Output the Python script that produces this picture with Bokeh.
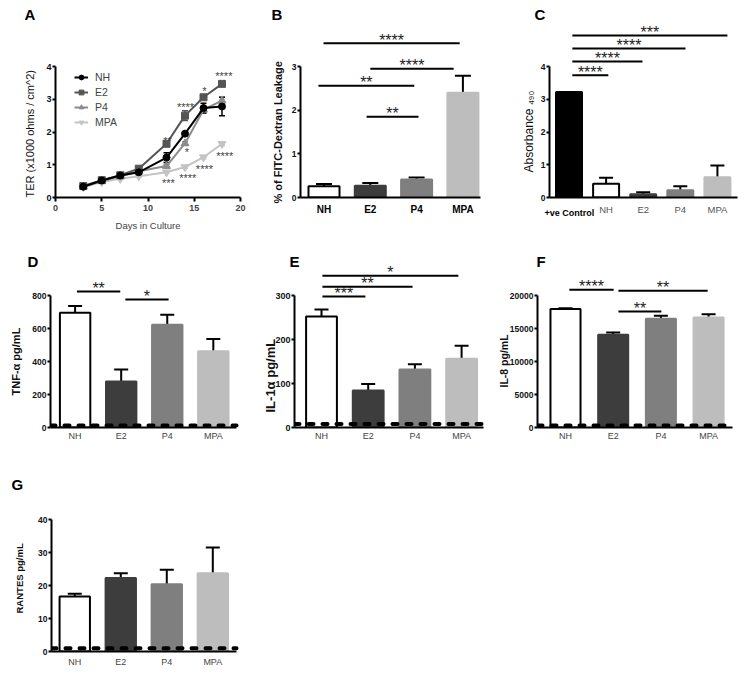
from bokeh.plotting import figure
from bokeh.models import (Range1d, FixedTicker, Whisker, TeeHead, ColumnDataSource,
                          Legend, LegendItem, Title)
from bokeh.layouts import column, row
from bokeh.embed import file_html
from bokeh.resources import INLINE
from bokeh.core.properties import value

FONT = "Liberation Sans"

# ---------------- data ----------------
# Panel A: TER over days in culture
days = [3, 5, 7, 9, 12, 14, 16, 18]
ter_nh = [0.33, 0.52, 0.67, 0.77, 1.22, 1.95, 2.73, 2.78]
ter_nh_err = [0.03, 0.03, 0.04, 0.05, 0.15, 0.05, 0.15, 0.28]
ter_e2 = [0.35, 0.53, 0.68, 0.88, 1.64, 2.50, 3.06, 3.47]
ter_e2_err = [0.02, 0.03, 0.03, 0.04, 0.05, 0.15, 0.06, 0.07]
ter_p4 = [0.33, 0.50, 0.65, 0.80, 0.96, 1.65, 2.68, 2.96]
ter_p4_err = [0.02, 0.02, 0.03, 0.03, 0.05, 0.05, 0.10, 0.10]
ter_mpa = [0.32, 0.47, 0.57, 0.65, 0.77, 0.93, 1.23, 1.64]
ter_mpa_err = [0.02, 0.02, 0.02, 0.03, 0.03, 0.04, 0.05, 0.05]
a_star_x = [12.1, 14.05, 16.1, 18.2, 14.2, 12.2, 14.3, 16.1, 18.3]
a_star_y = [1.83, 2.84, 3.33, 3.79, 1.47, 0.52, 0.70, 0.95, 1.37]
a_star_lab = ["**", "****", "*", "****", "*", "***", "****", "****", "****"]

groups = ["NH", "E2", "P4", "MPA"]

# Panel B: FITC-dextran leakage
b_vals = [0.26, 0.27, 0.41, 2.40]
b_errs = [0.05, 0.06, 0.05, 0.39]
b_sig_x0 = [0.99, 2.00, 0.88, 1.92]
b_sig_x1 = [3.93, 3.80, 2.95, 3.04]
b_sig_y = [3.53, 2.95, 2.56, 1.85]
b_sig_lab = ["****", "****", "**", "**"]

# Panel C: absorbance
c_cats = ["+ve Control", "NH", "E2", "P4", "MPA"]
c_vals = [3.22, 0.42, 0.10, 0.22, 0.62]
c_errs = [0.0, 0.18, 0.06, 0.12, 0.36]
c_sig_x0 = [1.09, 1.09, 1.09, 1.09]
c_sig_x1 = [5.27, 4.14, 2.98, 2.06]
c_sig_y = [4.95, 4.55, 4.15, 3.73]
c_sig_lab = ["***", "****", "****", "****"]

# Panel D: TNF-alpha
d_vals = [695, 279, 622, 462]
d_errs = [42, 73, 61, 75]
d_lod = 12
d_sig_x0 = [1.04, 2.09]
d_sig_x1 = [1.98, 3.03]
d_sig_y = [824, 776]
d_sig_lab = ["**", "*"]

# Panel E: IL-1alpha
e_vals = [252, 84, 132, 156]
e_errs = [16, 15, 12, 30]
e_lod = 8
e_sig_x0 = [1.02, 1.02, 1.02]
e_sig_x1 = [3.93, 2.95, 1.94]
e_sig_y = [345, 320, 298]
e_sig_lab = ["*", "**", "***"]

# Panel F: IL-8
f_vals = [17950, 14040, 16470, 16670]
f_errs = [120, 350, 450, 500]
f_lod = 300
f_sig_x0 = [1.08, 2.11, 2.11]
f_sig_x1 = [2.01, 3.98, 3.01]
f_sig_y = [20860, 20710, 17576]
f_sig_lab = ["****", "**", "**"]

# Panel G: RANTES
g_vals = [16.7, 22.3, 20.4, 23.7]
g_errs = [0.8, 1.4, 4.4, 7.8]
g_lod = 1.0

bar_fill = ["white", "#3d3d3d", "#7f7f7f", "#bdbdbd"]
bar_line = ["black", "#3d3d3d", "#7f7f7f", "#bdbdbd"]


def base_fig(w, h, xr, yr, borders, ytick_size="8.5px"):
    l, r, t, b = borders
    p = figure(width=w, height=h, x_range=Range1d(*xr), y_range=Range1d(*yr),
               output_backend="svg", toolbar_location=None, title=None,
               min_border_left=l, min_border_right=r, min_border_top=t, min_border_bottom=b)
    p.xgrid.visible = False
    p.ygrid.visible = False
    p.outline_line_color = None
    p.background_fill_color = "white"
    p.border_fill_color = "white"
    for ax in (p.xaxis[0], p.yaxis[0]):
        ax.axis_line_width = 2
        ax.axis_line_color = "black"
        ax.major_tick_line_width = 2
        ax.major_tick_line_color = "black"
        ax.minor_tick_line_color = None
        ax.major_tick_in = 0
        ax.major_label_text_font = FONT
        ax.axis_label_text_font = FONT
        ax.major_label_text_font_size = "9px"
    p.yaxis[0].major_label_text_font_size = ytick_size
    p.yaxis[0].major_tick_out = 3
    p.yaxis[0].major_label_standoff = 1
    p.yaxis[0].major_label_text_font_style = "bold"
    p.yaxis[0].major_label_text_color = "#111"
    return p


def panel_letter(p, letter, offset, standoff):
    p.add_layout(Title(text=letter, align="left", offset=offset, standoff=standoff,
                       vertical_align="bottom", text_font=FONT, text_font_size="15px",
                       text_font_style="bold", text_color="black"), "above")


def y_title(p, label, size, style, offset, standoff):
    p.add_layout(Title(text=label, align="left", offset=offset, standoff=standoff,
                       vertical_align="bottom", text_font=FONT, text_font_size=size,
                       text_font_style=style, text_color="#111"), "left")


def sig_marks(p, x0, x1, y, labs, size="16px"):
    mids = [(a + b) / 2 for a, b in zip(x0, x1)]
    p.segment(x0=x0, x1=x1, y0=y, y1=y, line_width=2, line_color="black")
    p.text(x=mids, y=y, text=labs, text_align="center",
           text_baseline="alphabetic", y_offset=-3, text_font=value(FONT),
           text_font_size=size, text_color="#222")


def bars(p, vals, errs, fills, lines, width, cap):
    xs = list(range(1, len(vals) + 1))
    src = ColumnDataSource(dict(x=xs, top=vals, fill=fills, line=lines))
    p.vbar(x="x", top="top", bottom=0, width=width, fill_color="fill", line_color="line",
           line_width=2, source=src)
    ex = [x for x, e in zip(xs, errs) if e > 0]
    lo = [v for v, e in zip(vals, errs) if e > 0]
    hi = [v + e for v, e in zip(vals, errs) if e > 0]
    wsrc = ColumnDataSource(dict(x=ex, lo=lo, hi=hi))
    p.add_layout(Whisker(source=wsrc, base="x", lower="lo", upper="hi", line_width=2,
                         line_color="black", lower_head=None,
                         upper_head=TeeHead(size=cap, line_width=2, line_color="black")))


def cat_axis(p, cats, xstart, xend_axis, bold=False, color="#444", size="9px", standoff=3):
    ax = p.xaxis[0]
    ax.ticker = FixedTicker(ticks=list(range(1, len(cats) + 1)))
    ax.major_label_overrides = {i + 1: c for i, c in enumerate(cats)}
    ax.major_tick_out = 0
    ax.major_label_standoff = standoff
    ax.bounds = (xstart, xend_axis)
    ax.major_label_text_font_style = "bold" if bold else "normal"
    ax.major_label_text_color = color
    ax.major_label_text_font_size = size


def y_ticks(p, ticks):
    ax = p.yaxis[0]
    ax.ticker = FixedTicker(ticks=ticks)
    ax.bounds = (0, ticks[-1])


def lod_line(p, xstart, xend, lod):
    p.segment(x0=[xstart], x1=[xend], y0=[lod], y1=[lod], line_width=4, line_color="black",
              line_dash="5 9", line_cap="round")


# ---------------- Panel A ----------------
pA = base_fig(248, 250, (0, 20), (0, 5.252), (55, 8, 25, 53), ytick_size="9px")
pA.xaxis[0].ticker = FixedTicker(ticks=[0, 5, 10, 15, 20])
pA.xaxis[0].major_tick_out = 4
pA.xaxis[0].major_label_standoff = 3
pA.xaxis[0].major_label_text_font_style = "bold"
pA.xaxis[0].axis_label = "Days in Culture"
pA.xaxis[0].axis_label_text_font_size = "9.5px"
pA.xaxis[0].axis_label_text_font_style = "normal"
pA.xaxis[0].axis_label_standoff = 6
y_ticks(pA, [0, 1, 2, 3, 4])
y_title(pA, "TER (x1000 ohms / cm^2)", "11px", "normal", 0, 15)

series = [("NH", ter_nh, ter_nh_err, "black", "circle", 7),
          ("E2", ter_e2, ter_e2_err, "#555555", "square", 7),
          ("P4", ter_p4, ter_p4_err, "#8c8c8c", "triangle", 8),
          ("MPA", ter_mpa, ter_mpa_err, "#c4c4c4", "inverted_triangle", 8)]
items = []
for name, ys, es, col, mk, sz in reversed(series):
    src = ColumnDataSource(dict(x=days, y=ys, lo=[a - b for a, b in zip(ys, es)],
                                hi=[a + b for a, b in zip(ys, es)]))
    ln = pA.line("x", "y", source=src, line_color=col, line_width=2)
    pA.add_layout(Whisker(source=src, base="x", lower="lo", upper="hi", line_color=col,
                          line_width=1.5,
                          upper_head=TeeHead(size=6, line_color=col, line_width=1.5),
                          lower_head=TeeHead(size=6, line_color=col, line_width=1.5)))
    sc = pA.scatter("x", "y", source=src, marker=mk, size=sz, fill_color=col, line_color=col)
    items.append(LegendItem(label=name, renderers=[ln, sc]))
items.reverse()
legA = Legend(items=items, location=(19, 69), background_fill_alpha=0, border_line_color=None,
              label_text_font=FONT, label_text_font_size="10.5px", glyph_width=14,
              glyph_height=12, label_height=12, spacing=3, padding=0, margin=0,
              label_standoff=7)
pA.add_layout(legA)
pA.text(x=a_star_x, y=a_star_y, text=a_star_lab, text_align="center",
        text_baseline="middle", y_offset=3, text_font=value(FONT),
        text_font_size="11px", text_color="#444")
panel_letter(pA, "A", -31, 5)

# ---------------- Panel B ----------------
b_x = (0.4924, 4.4665)
pB = base_fig(242, 250, b_x, (0, 3.939), (52, 6, 25, 53))
bars(pB, b_vals, b_errs, bar_fill, bar_line, 0.67, 16)
cat_axis(pB, groups, b_x[0], 4.38, bold=True, color="black", size="10px", standoff=6)
y_ticks(pB, [0, 1, 2, 3])
y_title(pB, "% of FITC-Dextran Leakage", "11px", "bold", -6, 9)
sig_marks(pB, b_sig_x0, b_sig_x1, b_sig_y, b_sig_lab)
panel_letter(pB, "B", -29, 5)

# ---------------- Panel C ----------------
c_x = (0.4744, 5.757)
pC = base_fig(257, 250, c_x, (0, 5.252), (59, 2, 25, 53))
bars(pC, c_vals, c_errs, ["black"] + bar_fill, ["black"] + bar_line, 0.70, 14)
cat_axis(pC, [""] + c_cats[1:], c_x[0], 5.542, bold=False, color="#555", size="9.5px",
         standoff=6)
pC.add_layout(Title(text=c_cats[0], align="left", offset=-5, standoff=-20, vertical_align="top",
                    text_font=FONT, text_font_size="9px", text_font_style="bold",
                    text_color="black"), "below")
y_ticks(pC, [0, 1, 2, 3, 4])
y_title(pC, "Absorbance \u2084\u2089\u2080", "12px", "normal", 25, 3)
sig_marks(pC, c_sig_x0, c_sig_x1, c_sig_y, c_sig_lab)
panel_letter(pC, "C", -15, 6)

# ---------------- Panel D ----------------
d_x = (0.4658, 4.590)
pD = base_fig(248, 205, d_x, (0, 1000), (47, 8, 12, 28))
bars(pD, d_vals, d_errs, bar_fill, bar_line, 0.66, 14)
lod_line(pD, d_x[0], 4.504, d_lod)
cat_axis(pD, groups, d_x[0], 4.504)
y_ticks(pD, [0, 200, 400, 600, 800])
y_title(pD, "TNF-\u03b1 pg/mL", "11px", "bold", 32, 15)
sig_marks(pD, d_sig_x0, d_sig_x1, d_sig_y, d_sig_lab)
panel_letter(pD, "D", -23, -14)

# ---------------- Panel E ----------------
e_x = (0.4218, 4.576)
pE = base_fig(242, 205, e_x, (0, 375), (46, 2, 12, 28), ytick_size="9px")
bars(pE, e_vals, e_errs, bar_fill, bar_line, 0.66, 14)
lod_line(pE, e_x[0], 4.469, e_lod)
cat_axis(pE, groups, e_x[0], 4.469)
y_ticks(pE, [0, 100, 200, 300])
y_title(pE, "IL-1\u03b1 pg/mL", "13px", "bold", 15, -11)
sig_marks(pE, e_sig_x0, e_sig_x1, e_sig_y, e_sig_lab)
panel_letter(pE, "E", -5, -14)

# ---------------- Panel F ----------------
f_x = (0.413, 4.774)
pF = base_fig(257, 205, f_x, (0, 25000), (47, 2, 12, 28))
bars(pF, f_vals, f_errs, bar_fill, bar_line, 0.63, 14)
lod_line(pF, f_x[0], 4.501, f_lod)
cat_axis(pF, groups, f_x[0], 4.501)
y_ticks(pF, [0, 5000, 10000, 15000, 20000])
y_title(pF, "IL-8 pg/mL", "10.5px", "bold", 40, -7)
sig_marks(pF, f_sig_x0, f_sig_x1, f_sig_y, f_sig_lab)
panel_letter(pF, "F", -1, -14)

# ---------------- Panel G ----------------
g_x = (0.4946, 4.602)
pG = base_fig(248, 215, g_x, (0, 42.73), (49, 8, 55, 19))
bars(pG, g_vals, g_errs, bar_fill, bar_line, 0.66, 14)
lod_line(pG, g_x[0], 4.516, g_lod)
cat_axis(pG, groups, g_x[0], 4.516, standoff=5)
y_ticks(pG, [0, 10, 20, 30, 40])
y_title(pG, "RANTES pg/mL", "9.5px", "bold", 38, 22)
panel_letter(pG, "G", -40, 35)

layout = column(row(pA, pB, pC, spacing=0), row(pD, pE, pF, spacing=0), row(pG, spacing=0),
                spacing=0)
open("out.html", "w").write(file_html(layout, INLINE))
